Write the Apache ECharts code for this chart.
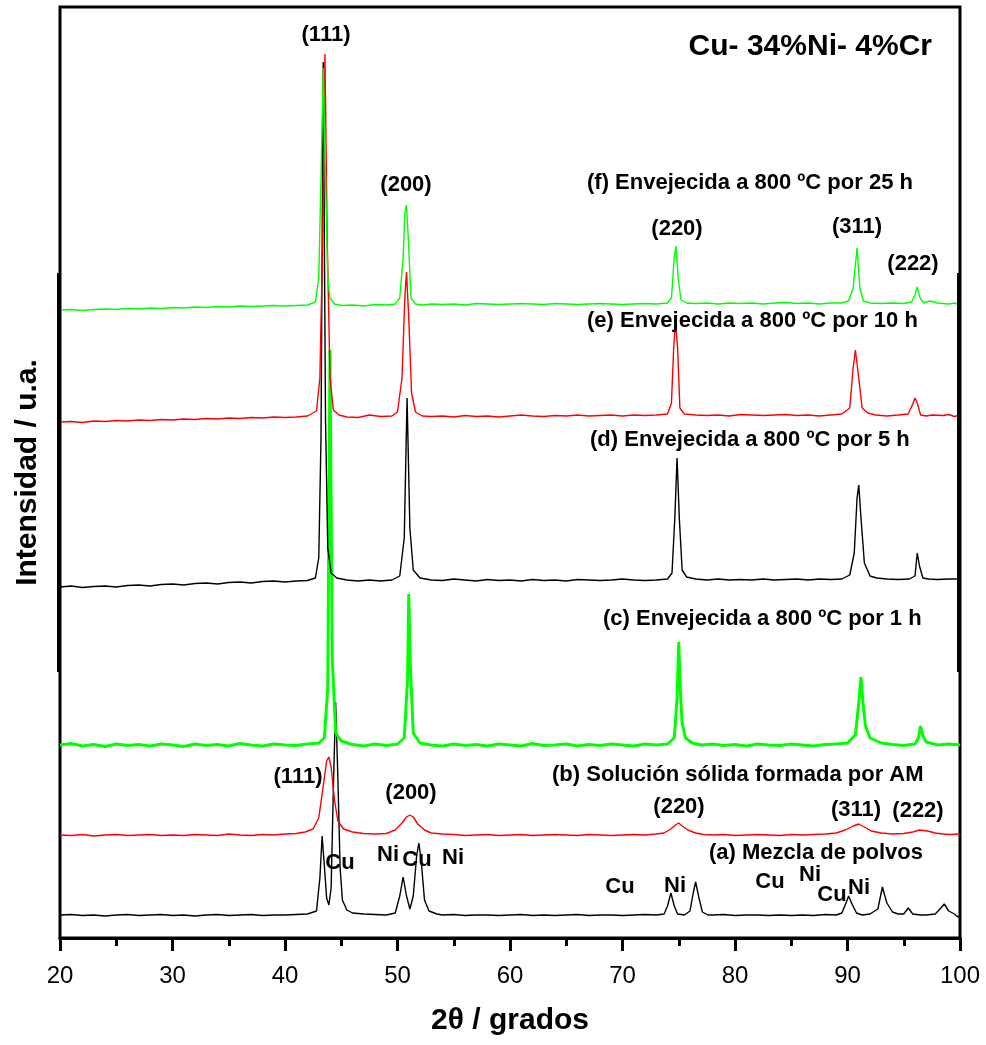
<!DOCTYPE html>
<html>
<head>
<meta charset="utf-8">
<script src="https://cdn.jsdelivr.net/npm/echarts@6/dist/echarts.min.js"></script>
<style>
  html, body { margin: 0; padding: 0; background: #fff; }
  #chart { width: 986px; height: 1045px; }
</style>
</head>
<body>
<div id="chart"></div>
<script>
// 2theta ticks
const xTicks = [20, 30, 40, 50, 60, 70, 80, 90, 100];

// (a) Mezcla de polvos
const traceA = [[20,23],[21,23.5],[22,22.5],[23,23],[24,22],[25,23],[26,23.5],[27,22.5],[28,23],[29,23.5],[30,22.5],[31,23],[32,22],[33,23],[34,23.5],[35,22.5],[36,23],[37,23.5],[38,22.5],[39,23],[40,23],[41,23.5],[42,24],[42.8,27],[43.1,60],[43.3,102],[43.5,72],[43.7,40],[43.9,33],[44.1,50],[44.3,150],[44.5,236],[44.7,160],[44.9,70],[45.1,38],[45.5,28],[46,25],[47,24],[48,23.5],[49,23],[49.8,25],[50.2,42],[50.5,61],[50.8,42],[51.1,29],[51.4,42],[51.7,82],[51.9,95],[52.1,78],[52.4,38],[52.8,27],[53.5,24],[54,23],[55,23.5],[56,22.5],[57,23],[58,23],[59,22.5],[60,23],[61,23.5],[62,22.5],[63,23],[64,22.5],[65,23],[66,23.5],[67,22.5],[68,23],[69,23],[70,22.5],[71,23],[72,23.5],[73,23],[73.7,24],[74.0,32],[74.3,45],[74.6,32],[74.9,24],[75.5,23],[76.0,27],[76.3,46],[76.5,56],[76.8,40],[77.1,26],[77.6,23],[78,23],[79,23.5],[80,22.5],[81,23],[82,23],[83,22.5],[84,23],[85,22.5],[86,23],[87,22.5],[88,23.5],[89,23],[89.5,25],[89.9,36],[90.1,42],[90.4,34],[90.8,25],[91.3,23],[92,24],[92.7,29],[93.1,51],[93.5,35],[94,26],[94.5,24],[95,24],[95.4,30],[95.8,24],[96.5,23],[97,23],[97.8,24],[98.3,30],[98.6,34],[99,27],[99.5,24],[99.8,21],[100,23]];

// (b) Solucion solida formada por AM
const traceB = [[20,103],[21,102.5],[22,103.5],[23,102],[24,103],[25,103.5],[26,102.5],[27,103],[28,103.5],[29,102.5],[30,103],[31,102.5],[32,103.5],[33,103],[34,102.5],[35,104],[36,103],[37,102.5],[38,103.5],[39,103],[40,104],[41,104.5],[41.8,106],[42.5,109],[43.0,120],[43.4,152],[43.7,177],[43.9,181],[44.1,171],[44.4,138],[44.7,117],[45.2,109],[46,106],[47,104.5],[48,104],[49,104.5],[49.8,108],[50.4,115],[50.8,121],[51.1,123],[51.4,121],[51.8,114],[52.4,108],[53,105],[54,104],[55,103.5],[56,102.5],[57,103],[58,103.5],[59,102.5],[60,103],[61,103.5],[62,102.5],[63,103],[64,103.5],[65,103],[66,102.5],[67,103.5],[68,103],[69,102.5],[70,103],[71,103.5],[72,103],[73,104],[73.7,105],[74.3,109],[74.7,113],[75.0,115],[75.3,112],[75.8,108],[76.5,105],[77.2,103.5],[78,103],[79,103.5],[80,102.5],[81,103],[82,103.5],[83,103],[84,102.5],[85,103.5],[86,103],[87,103.5],[88,104],[89,105],[89.8,108],[90.5,112],[91,114],[91.5,111],[92.1,107],[93,105],[94,104],[95,104.5],[95.8,106],[96.4,108],[97.1,107],[97.8,105],[98.5,104],[99,103.5],[100,104]];

// (c) Envejecida 1 h
const traceC = [[20,193],[21,194.5],[22,192],[23,193.5],[24,191.5],[25,194],[26,192.5],[27,193.5],[28,192],[29,194],[30,193],[31,191.5],[32,194],[33,192.5],[34,193.5],[35,192],[36,194.5],[37,193],[38,192],[39,194],[40,193],[41,192.5],[42,194],[43,195],[43.5,200],[43.8,250],[44.0,588],[44.2,280],[44.5,205],[45,197],[46,193.5],[47,192],[48,194],[49,192.5],[50,194],[50.6,200],[50.9,260],[51.0,344],[51.15,270],[51.4,205],[52,195],[53,193],[54,192],[55,194],[56,192.5],[57,193.5],[58,192],[59,194],[60,193],[61,192],[62,194.5],[63,192.5],[64,193],[65,194],[66,192],[67,193.5],[68,192.5],[69,194],[70,193],[71,192],[72,194],[73,193],[74,194],[74.6,200],[74.85,240],[75.0,296],[75.15,245],[75.3,215],[75.6,200],[76.2,195],[77,193],[78,194],[79,192.5],[80,193.5],[81,192],[82,194],[83,193],[84,192.5],[85,194],[86,193],[87,192],[88,193.5],[89,194],[90,195],[90.7,203],[91.0,235],[91.2,261],[91.35,238],[91.6,212],[92,200],[93,195],[94,193.5],[95,192.5],[96,194],[96.3,200],[96.5,212],[96.7,202],[97,196],[98,193],[99,194],[100,193]];

// (d) Envejecida 5 h
const traceD = [[20,351],[21,352],[22,350.5],[23,351.5],[24,352],[25,351],[26,352.5],[27,353],[28,352],[29,353.5],[30,354],[31,353],[32,354.5],[33,355],[34,354],[35,355.5],[36,356],[37,355],[38,356.5],[39,357],[40,356],[41,357],[42,357.5],[42.7,360],[43.0,380],[43.2,500],[43.4,876],[43.6,520],[43.8,390],[44.1,365],[44.6,360],[45.5,358],[46.5,357],[47.5,358],[48.5,357],[49.5,358],[50.2,362],[50.6,400],[50.85,540],[51.1,410],[51.4,368],[52,360],[53,358],[54,357.5],[55,359],[56,358],[57,357],[58,358.5],[59,357.5],[60,358],[61,357],[62,358.5],[63,357.5],[64,358],[65,357],[66,358.5],[67,358],[68,357.5],[69,358],[70,359],[71,358],[72,357.5],[73,358],[74,359],[74.4,365],[74.65,420],[74.85,480],[75.05,420],[75.3,368],[75.7,361],[76.5,359],[77.5,358],[78.5,359],[79.5,358],[80.5,358.5],[81.5,358],[82.5,359],[83.5,358],[84.5,358.5],[85.5,359],[86.5,358],[87.5,359],[88.5,358.5],[89.5,359],[90.2,363],[90.6,385],[90.85,440],[91.0,453],[91.2,420],[91.5,375],[92,362],[92.6,360],[93.5,359],[94.5,358.5],[95.5,359],[96.0,362],[96.2,385],[96.4,372],[96.55,371],[96.7,360],[97.2,359],[98,358.5],[99,359],[100,359]];

// (e) Envejecida 10 h
const traceE = [[20,516],[21,516.5],[22,515.5],[23,517],[24,516.5],[25,517.5],[26,517],[27,518],[28,517.5],[29,518.5],[30,518],[31,519],[32,518.5],[33,519.5],[34,519],[35,520],[36,519.5],[37,520.5],[38,520],[39,521],[40,520.5],[41,521],[42,522],[42.8,527],[43.1,560],[43.35,700],[43.55,884],[43.75,700],[44.0,560],[44.3,528],[44.8,523],[45.5,521],[46.5,520.5],[47.5,523],[48.5,521.5],[49.5,522],[50.0,526],[50.4,560],[50.65,640],[50.8,666],[51.0,620],[51.25,545],[51.6,526],[52.2,522],[53,521.5],[54,522],[55,521],[56,522.5],[57,521.5],[58,522],[59,521],[60,522],[61,523],[62,522],[63,521.5],[64,522.5],[65,522],[66,523],[67,522],[68,522.5],[69,523],[70,522],[71,523],[72,522.5],[73,523],[74,524],[74.35,535],[74.55,590],[74.7,616],[74.9,590],[75.1,530],[75.5,524],[76.5,523],[77.5,522.5],[78.5,523],[79.5,522],[80.5,523.5],[81.5,523],[82.5,522.5],[83.5,523],[84.5,523.5],[85.5,522.5],[86.5,523],[87.5,522],[88.5,523],[89.5,524],[90.2,530],[90.5,570],[90.7,588],[90.8,590],[91.0,560],[91.3,530],[91.8,525],[92.5,523],[93.5,522],[94.5,523],[95.4,524],[95.8,534],[96.0,540],[96.2,535],[96.5,523],[97,522],[97.5,523],[98.5,522.5],[99,523.5],[99.5,521.5],[100,523]];

// (f) Envejecida 25 h
const traceF = [[20,628],[21,628.5],[22,627.5],[23,628.5],[24,629],[25,628.5],[26,629.5],[27,629],[28,630],[29,629.5],[30,630.5],[31,630],[32,631],[33,630.5],[34,631.5],[35,631],[36,632],[37,631.5],[38,632],[39,632.5],[40,632],[41,632.5],[42,633],[42.7,636],[43.0,660],[43.2,760],[43.4,870],[43.6,760],[43.8,660],[44.0,640],[44.4,634],[45,632.5],[46,633],[47,632],[48,633.5],[49,633],[49.8,634],[50.2,640],[50.5,680],[50.65,725],[50.8,733],[51.0,690],[51.2,640],[51.6,634],[52.2,633],[53,634],[54,633.5],[55,634],[56,633],[57,634.5],[58,634],[59,633.5],[60,634],[61,634.5],[62,634],[63,633.5],[64,634.5],[65,634],[66,633.5],[67,634],[68,634.5],[69,634],[70,633.5],[71,634],[72,634.5],[73,634],[74,635],[74.35,640],[74.6,680],[74.75,692],[74.95,660],[75.2,638],[75.7,635],[76.5,634.5],[77.5,635],[78.5,634],[79.5,635],[80.5,634.5],[81.5,635],[82.5,634],[83.5,635],[84.5,635.5],[85.5,634.5],[86.5,635],[87.5,634],[88.5,635],[89.5,635],[90.1,637],[90.5,650],[90.85,690],[91.1,650],[91.4,637],[92,635],[93,634.5],[94,635],[95,634.5],[95.7,636],[96.0,643],[96.2,651],[96.45,640],[96.8,635],[97.3,637],[98,635],[99,634],[99.5,635],[100,633]];

const chart = echarts.init(document.getElementById('chart'));

const FONT = '"Liberation Sans", Arial, sans-serif';
function label(text, x, y, size, align) {
  return {
    type: 'text',
    z: 100,
    style: {
      text: text,
      x: x,
      y: y,
      font: 'bold ' + (size || 22) + 'px ' + FONT,
      fill: '#000',
      textAlign: align || 'center',
      textVerticalAlign: 'middle'
    }
  };
}

function line(name, data, color, width) {
  return {
    name: name,
    type: 'line',
    data: data,
    showSymbol: false,
    animation: false,
    lineStyle: { color: color, width: width },
    itemStyle: { color: color }
  };
}

const option = {
  backgroundColor: '#fff',
  animation: false,
  grid: {
    left: 60, right: 26, top: 7, bottom: 107,
    show: true, borderColor: '#000', borderWidth: 3
  },
  xAxis: {
    type: 'value',
    min: 20, max: 100, interval: 10,
    name: '2θ / grados',
    nameLocation: 'middle',
    nameGap: 68,
    nameTextStyle: { fontFamily: FONT, fontWeight: 'bold', fontSize: 30, color: '#000' },
    axisLine: { lineStyle: { color: '#000', width: 3 } },
    axisTick: { inside: false, length: 13, lineStyle: { color: '#000', width: 3 } },
    minorTick: { show: true, splitNumber: 2, length: 8, lineStyle: { color: '#000', width: 3 } },
    axisLabel: {
      margin: 26, fontFamily: FONT, fontSize: 24, color: '#000',
      formatter: v => xTicks.includes(v) ? String(v) : ''
    },
    splitLine: { show: false }
  },
  yAxis: {
    type: 'value',
    min: 0, max: 931,
    name: 'Intensidad / u.a.',
    nameLocation: 'middle',
    nameRotate: 90,
    nameGap: 17,
    nameTextStyle: { fontFamily: FONT, fontWeight: 'bold', fontSize: 30, color: '#000' },
    axisLine: { show: false },
    axisTick: { show: false },
    axisLabel: { show: false },
    splitLine: { show: false }
  },
  series: [
    line('(a)', traceA, '#000000', 1.4),
    line('(b)', traceB, '#ff0000', 1.4),
    line('(c)', traceC, '#00ff00', 3),
    line('(d)', traceD, '#000000', 1.4),
    line('(e)', traceE, '#ff0000', 1.4),
    line('(f)', traceF, '#00ff00', 1.4)
  ],
  graphic: [
    { type: 'rect', shape: { x: 57, y: 273, width: 4, height: 399 }, style: { fill: '#000' }, z: 90 },
    { type: 'rect', shape: { x: 957, y: 273, width: 4, height: 399 }, style: { fill: '#000' }, z: 90 },
    label('Cu- 34%Ni- 4%Cr', 932, 47, 30, 'right'),
    label('(111)', 326, 35),
    label('(200)', 406, 185),
    label('(f) Envejecida a 800 ºC por 25 h', 587, 183, 22, 'left'),
    label('(220)', 677, 229),
    label('(311)', 857, 227),
    label('(222)', 913, 264),
    label('(e) Envejecida a 800 ºC por 10 h', 587, 321, 22, 'left'),
    label('(d) Envejecida a 800 ºC por 5 h', 590, 440, 22, 'left'),
    label('(c) Envejecida a 800 ºC por 1 h', 603, 619, 22, 'left'),
    label('(b) Solución sólida formada por AM', 552, 775, 22, 'left'),
    label('(111)', 298, 777),
    label('(200)', 411, 793),
    label('(220)', 679, 807),
    label('(311)', 856, 810),
    label('(222)', 918, 811),
    label('(a) Mezcla de polvos', 709, 853, 22, 'left'),
    label('Cu', 340, 863),
    label('Ni', 388, 855),
    label('Cu', 417, 860),
    label('Ni', 453, 858),
    label('Cu', 620, 887),
    label('Ni', 675, 886),
    label('Cu', 770, 882),
    label('Ni', 810, 875),
    label('Cu', 832, 895),
    label('Ni', 859, 888)
  ]
};

chart.setOption(option);
</script>
</body>
</html>
